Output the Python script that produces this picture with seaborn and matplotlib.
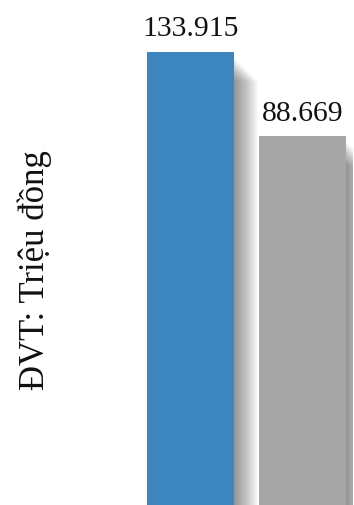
import numpy as np
import matplotlib
matplotlib.use('Agg')
import matplotlib.pyplot as plt
import matplotlib.patheffects as pe
import seaborn as sns
import pandas as pd

categories = ['Kỳ này', 'Kỳ trước']
values = [133.915, 88.669]
value_labels = ['133.915', '88.669']
colors = ['#3c85bf', '#a6a6a6']
unit_label = 'ĐVT: Triệu đồng'

sns.set_theme(style='white')
plt.rcParams['font.family'] = ['Liberation Serif', 'DejaVu Serif']

fig = plt.figure(figsize=(3.54, 5.05), dpi=100)
ax = fig.add_axes([0.380, 0.0, 0.617, 1.0])
df = pd.DataFrame({'cat': categories, 'val': values})
sns.barplot(data=df, x='cat', y='val', hue='cat', palette=colors,
            width=0.77, saturation=1, legend=False, ax=ax, linewidth=0)

ax.set_yscale('function', functions=(lambda y: np.sqrt(np.clip(y, 0, None)),
                                     lambda y: np.square(y)))
ax.set_ylim(0, 166.4)
ax.set_xlim(-0.5, 1.45)

# soft drop shadow (offsets in points)
px = 72 / 100
shadow = []
for k in range(1, 25):
    shadow.append(pe.SimplePatchShadow(offset=(1.0 * k * px, -(5 + 1.0 * k) * px),
                                       shadow_rgbFace='black', alpha=0.02))
shadow.append(pe.Normal())
for bar in ax.patches:
    bar.set_path_effects(shadow)

for cont, lbl in zip(ax.containers, value_labels):
    ax.bar_label(cont, labels=[lbl], padding=6.9, fontsize=21.3,
                 color='#111111', family=['Liberation Serif', 'DejaVu Serif'])

ax.set_axis_off()

fig.text(35 / 354, 1 - 270 / 505, unit_label, rotation=90, ha='center', va='center',
         fontsize=25, color='#111111', family=['Liberation Serif', 'DejaVu Serif'])

fig.savefig('out.png', dpi=100)
